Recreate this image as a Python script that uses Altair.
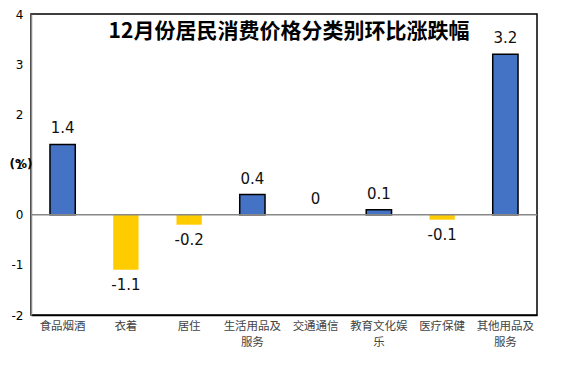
import altair as alt
import pandas as pd

categories = ["食品烟酒", "衣着", "居住", "生活用品及服务", "交通通信", "教育文化娱乐", "医疗保健", "其他用品及服务"]
values = [1.4, -1.1, -0.2, 0.4, 0, 0.1, -0.1, 3.2]
labels = ["1.4", "-1.1", "-0.2", "0.4", "0", "0.1", "-0.1", "3.2"]
title_text = "12月份居民消费价格分类别环比涨跌幅"
y_ticks = [-2, -1, 0, 1, 2, 3, 4]

df = pd.DataFrame({"cat": categories, "v": values, "lab": labels})

x_enc = alt.X("cat:N", sort=categories, title=None,
              scale=alt.Scale(paddingInner=0.6, paddingOuter=0.3),
              axis=alt.Axis(labelAngle=0, labelFont="Noto Sans CJK SC", labelFontSize=11.5,
                            labelColor="#444444", labelPadding=5, ticks=False,
                            domainColor="#000000", domainWidth=1.5, labelLineHeight=16,
                            labelExpr="length(datum.label) > 4 ? [substring(datum.label,0,5), substring(datum.label,5)] : datum.label"))
y_scale = alt.Scale(domain=[-2, 4], nice=False)

bars = alt.Chart(df).mark_bar(stroke="#000000").encode(
    x=x_enc,
    y=alt.Y("v:Q", scale=y_scale, title="(%)",
            axis=alt.Axis(values=y_ticks, grid=False, ticks=False, labelFont="DejaVu Sans",
                          labelFontSize=12, labelColor="#000000", labelPadding=8,
                          labelExpr="toString(datum.value)",
                          domainColor="#888888", domainWidth=1.5,
                          titleAngle=0, titleX=-22, titleY=149, titleAlign="left",
                          titleBaseline="middle",
                          titleFont="DejaVu Sans", titleFontSize=12, titleFontWeight="bold",
                          titleColor="#000000")),
    color=alt.condition(alt.datum.v >= 0, alt.value("#4472C4"), alt.value("#FFCC00")),
    strokeWidth=alt.condition(alt.datum.v > 0, alt.value(1.5), alt.value(0)),
)

zero = alt.Chart(pd.DataFrame({"z": [0]})).mark_rule(color="#888888", strokeWidth=1.5).encode(
    y=alt.Y("z:Q", scale=y_scale)
)

pos_text = alt.Chart(df).transform_filter(alt.datum.v >= 0).mark_text(
    font="DejaVu Sans", fontSize=15, color="#111111", baseline="bottom", dy=-8
).encode(x=alt.X("cat:N", sort=categories), y=alt.Y("v:Q", scale=y_scale), text="lab:N")

neg_text = alt.Chart(df).transform_filter(alt.datum.v < 0).mark_text(
    font="DejaVu Sans", fontSize=15, color="#111111", baseline="top", dy=8
).encode(x=alt.X("cat:N", sort=categories), y=alt.Y("v:Q", scale=y_scale), text="lab:N")

chart = alt.layer(bars, zero, pos_text, neg_text).properties(
    width=506, height=301,
    title=alt.TitleParams(title_text, font="Noto Sans CJK SC", fontSize=21, fontWeight="bold",
                          color="#000000", anchor="middle", dy=38, dx=5),
    autosize=alt.AutoSizeParams(type="none"),
    padding={"left": 23, "top": 6, "right": 20, "bottom": 50},
).configure_view(stroke="#000000", strokeWidth=1.5)

chart.save("out.html", embed_options={"renderer": "svg", "actions": False})
